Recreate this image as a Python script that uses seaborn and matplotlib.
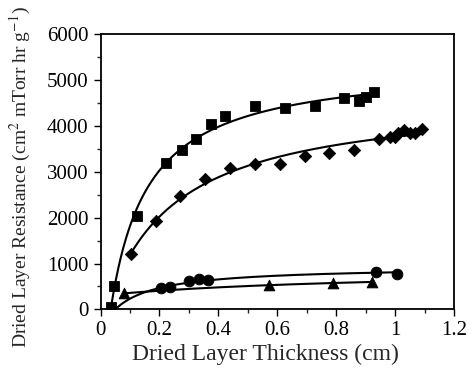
import numpy as np
import pandas as pd
import matplotlib
matplotlib.use("Agg")
import matplotlib.pyplot as plt
import seaborn as sns
from matplotlib.ticker import MultipleLocator

# ==================== data ====================
sq_x = [0.036, 0.047, 0.123, 0.222, 0.275, 0.324, 0.374, 0.422, 0.524, 0.625, 0.727, 0.826, 0.876, 0.902, 0.927]
sq_y = [57, 508, 2036, 3186, 3476, 3716, 4037, 4218, 4442, 4386, 4436, 4604, 4552, 4639, 4741]

di_x = [0.102, 0.188, 0.269, 0.353, 0.438, 0.523, 0.608, 0.693, 0.776, 0.860, 0.944, 0.981, 0.998, 1.009, 1.029, 1.049, 1.068, 1.092]
di_y = [1207, 1933, 2472, 2843, 3090, 3164, 3164, 3345, 3404, 3476, 3716, 3766, 3766, 3840, 3912, 3853, 3840, 3934]

ci_x = [0.205, 0.236, 0.300, 0.335, 0.365, 0.934, 1.004]
ci_y = [471, 493, 624, 655, 639, 820, 764]

tr_x = [0.081, 0.570, 0.787, 0.921]
tr_y = [349, 530, 567, 602]

# start / end of each fitted curve; the circle curve starts at zero resistance
sq_curve = (0.036, 0.927)
di_curve = (0.102, 1.092)
ci_curve = (0.05, 1.004)
tr_curve = (0.081, 0.921)


# R = R0 + A*L/(1+B*L): scan B, solve R0 and A by weighted least squares
def fit_curve(x, y, span, anchor=None, w_first=5.0):
    x = np.asarray(x, float)
    y = np.asarray(y, float)
    w = np.ones_like(x)
    w[0] = w_first
    if anchor is not None:
        x = np.append(anchor[0], x)
        y = np.append(anchor[1], y)
        w = np.append(w_first, w)
    best = None
    for b in np.logspace(-2, 3, 800):
        g = x / (1 + b * x)
        M = np.column_stack([np.ones_like(x), g]) * w[:, None]
        coef, *_ = np.linalg.lstsq(M, y * w, rcond=None)
        err = np.sum((M @ coef - y * w) ** 2)
        if best is None or err < best[0]:
            best = (err, b, coef)
    _, b, (r0, a) = best
    xs = np.linspace(span[0], span[1], 300)
    return xs, r0 + a * xs / (1 + b * xs)


sns.set_style("ticks")
plt.rcParams["font.family"] = ["Liberation Serif", "DejaVu Serif"]
plt.rcParams["mathtext.fontset"] = "stix"

fig = plt.figure(figsize=(4.73, 3.70), dpi=100)
ax = fig.add_axes([0.2125, 0.164, 0.748, 0.743])

curves = [
    fit_curve(sq_x, sq_y, sq_curve),
    fit_curve(di_x, di_y, di_curve),
    fit_curve(ci_x, ci_y, ci_curve, anchor=(0.05, 0)),
    fit_curve(tr_x, tr_y, tr_curve),
]
for xs, ys in curves:
    sns.lineplot(x=xs, y=ys, ax=ax, color="black", linewidth=1.5, sort=False)

sns.scatterplot(x=sq_x, y=sq_y, ax=ax, marker="s", s=55, color="black", edgecolor="black", zorder=3)
sns.scatterplot(x=di_x, y=di_y, ax=ax, marker="D", s=40, color="black", edgecolor="black", zorder=3)
sns.scatterplot(x=ci_x, y=ci_y, ax=ax, marker="o", s=60, color="black", edgecolor="black", zorder=3)
sns.scatterplot(x=tr_x, y=tr_y, ax=ax, marker="^", s=60, color="black", edgecolor="black", zorder=3)

ax.set_xlim(0, 1.2)
ax.set_ylim(0, 6000)
ax.set_xticks([0, 0.2, 0.4, 0.6, 0.8, 1.0, 1.2])
ax.set_xticklabels(["0", "0.2", "0.4", "0.6", "0.8", "1", "1.2"])
ax.xaxis.set_minor_locator(MultipleLocator(0.1))
ax.yaxis.set_major_locator(MultipleLocator(1000))
ax.yaxis.set_minor_locator(MultipleLocator(500))

for sp in ax.spines.values():
    sp.set_linewidth(1.3)
    sp.set_color("black")
ax.tick_params(which="major", direction="out", length=5, width=1, labelsize=15, colors="black")
ax.tick_params(which="minor", direction="out", length=3, width=1)
ax.tick_params(top=False, right=False, which="both")

ax.set_xlabel("Dried Layer Thickness (cm)", fontsize=17)
ax.xaxis.set_label_coords(0.465, -0.125)
ax.xaxis.label.set_verticalalignment("top")
ax.set_ylabel(r"Dried Layer Resistance (cm$^{2}$ mTorr hr g$^{-1}$)", fontsize=14)
ax.yaxis.set_label_coords(-0.19, 0.48)

fig.savefig("out.png", dpi=100)
